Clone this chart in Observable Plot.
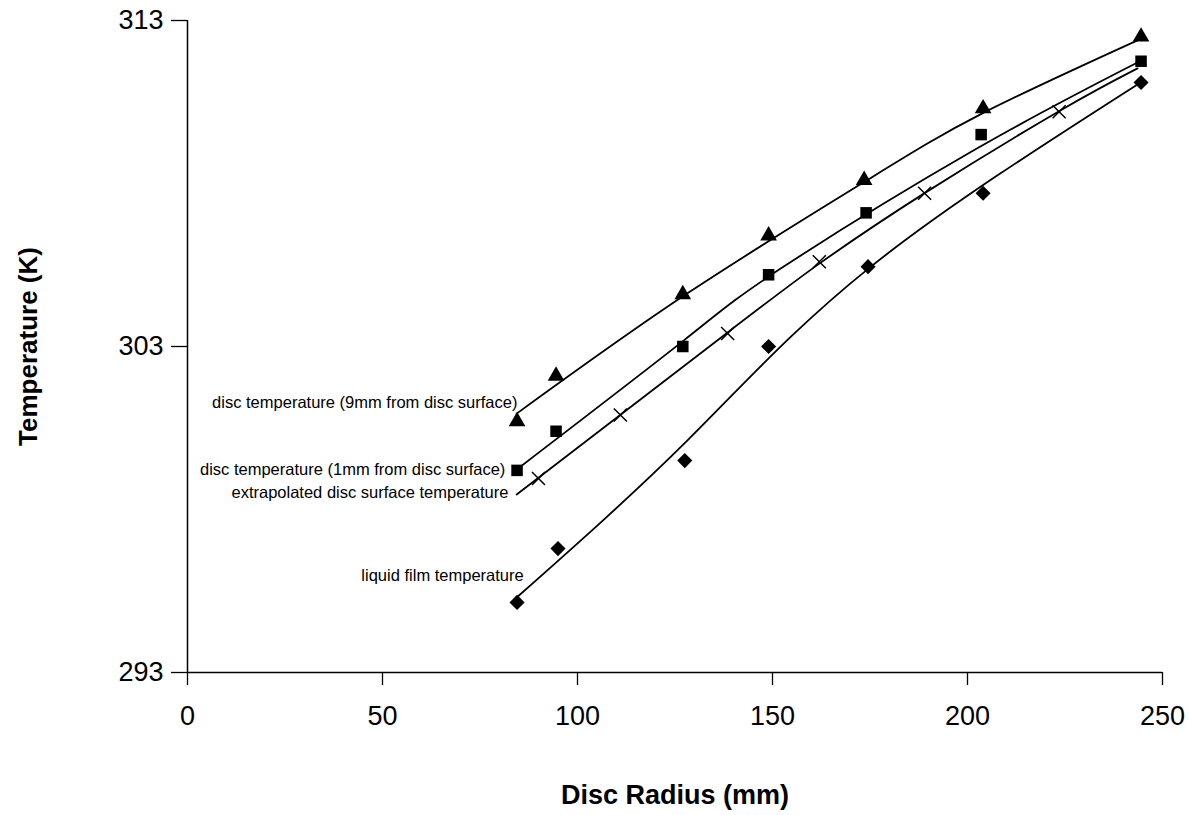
<!DOCTYPE html>
<html>
<head>
<meta charset="utf-8">
<script src="https://cdn.jsdelivr.net/npm/d3@7"></script>
<script src="https://cdn.jsdelivr.net/npm/@observablehq/plot@0.6"></script>
<style>
  html, body { margin: 0; padding: 0; background: #fff; }
</style>
</head>
<body>
<div id="chart"></div>
<script>
// ---- tick values ----
const xTicks = [0, 50, 100, 150, 200, 250];
const yTicks = [293, 303, 313];

// ---- measured points ----
// disc temperature, 9 mm from disc surface (triangles)
const disc9X = [84.5, 94.5, 127, 149, 173.5, 204, 244.5];
const disc9Y = [300.7, 302.1, 304.6, 306.4, 308.1, 310.3, 312.5];
// disc temperature, 1 mm from disc surface (squares)
const disc1X = [84.5, 94.5, 127, 149, 174, 203.5, 244.5];
const disc1Y = [299.2, 300.4, 303.0, 305.2, 307.1, 309.5, 311.75];
// extrapolated disc surface temperature (crosses)
const surfX = [90, 111, 138.5, 162, 189, 223.5];
const surfY = [298.95, 300.9, 303.4, 305.6, 307.7, 310.2];
// liquid film temperature (diamonds)
const filmX = [84.5, 95, 127.5, 149, 174.5, 204, 244.5];
const filmY = [295.15, 296.8, 299.5, 303.0, 305.45, 307.7, 311.1];

// ---- fitted curves ----
const fit9X = [84.4, 128.2, 173.3, 203.8, 243.6];
const fit9Y = [300.94, 304.63, 308.03, 310.15, 312.39];
const fit1X = [85.1, 127.2, 152.1, 201.5, 243.6];
const fit1Y = [299.29, 303.18, 305.39, 309.01, 311.71];
const fitSX = [84.4, 138.5, 162.1, 189.2, 223.8, 243.6];
const fitSY = [298.46, 303.43, 305.55, 307.72, 310.24, 311.53];
const fitFX = [84.4, 128.2, 174.6, 244.4];
const fitFY = [295.30, 300.12, 305.39, 311.10];

// ---- series labels ----
const seriesNames = [
  "disc temperature (9mm from disc surface)",
  "disc temperature (1mm from disc surface)",
  "extrapolated disc surface temperature",
  "liquid film temperature"
];
const labelX = [84.6, 81.5, 82.3, 86.2];
const labelY = [301.28, 299.22, 298.52, 295.98];

const zip = (xs, ys) => xs.map((x, i) => ({x, y: ys[i]}));
const labels = seriesNames.map((t, i) => ({t, x: labelX[i], y: labelY[i]}));

const lineOpts = {x: "x", y: "y", curve: "natural", stroke: "black", strokeWidth: 1.8};

const chart = Plot.plot({
  width: 1190,
  height: 815,
  marginLeft: 187,
  marginRight: 28,
  marginTop: 20,
  marginBottom: 143,
  x: {domain: [0, 250]},
  y: {domain: [293, 313]},
  style: {
    fontFamily: "'Liberation Sans', Arial, Helvetica, sans-serif",
    fontSize: "27px",
    color: "black",
    background: "white"
  },
  marks: [
    Plot.ruleX([0], {stroke: "black", strokeWidth: 1.5}),
    Plot.ruleY([293], {stroke: "black", strokeWidth: 1.5}),
    Plot.axisX({ticks: xTicks, tickSize: 13, tickPadding: 20, label: null, strokeWidth: 1.3}),
    Plot.axisY({ticks: yTicks, tickSize: 16, tickPadding: 8, label: null, strokeWidth: 1.3}),
    // fitted curves
    Plot.line(zip(fit9X, fit9Y), lineOpts),
    Plot.line(zip(fit1X, fit1Y), lineOpts),
    Plot.line(zip(fitSX, fitSY), lineOpts),
    Plot.line(zip(fitFX, fitFY), lineOpts),
    // markers
    Plot.dot(zip(disc9X, disc9Y), {x: "x", y: "y", symbol: "triangle", r: 6.2, fill: "black"}),
    Plot.dot(zip(disc1X, disc1Y), {x: "x", y: "y", symbol: "square", r: 6.5, fill: "black"}),
    Plot.dot(zip(surfX, surfY), {x: "x", y: "y", symbol: "times", r: 6, stroke: "black", fill: "none", strokeWidth: 1.5}),
    Plot.dot(zip(filmX, filmY), {x: "x", y: "y", symbol: "diamond2", r: 6.8, fill: "black"}),
    // series labels
    Plot.text(labels, {x: "x", y: "y", text: "t", textAnchor: "end", fontSize: 16.5, fill: "black"}),
    // axis titles
    Plot.text(["Temperature (K)"], {frameAnchor: "left", dx: -159, rotate: -90, textAnchor: "middle", lineAnchor: "middle", fontSize: 26, fontWeight: "bold", fill: "black"}),
    Plot.text(["Disc Radius (mm)"], {frameAnchor: "bottom", dy: 123, lineAnchor: "middle", fontSize: 27, fontWeight: "bold", fill: "black"})
  ]
});

document.getElementById("chart").appendChild(chart);
</script>
</body>
</html>
